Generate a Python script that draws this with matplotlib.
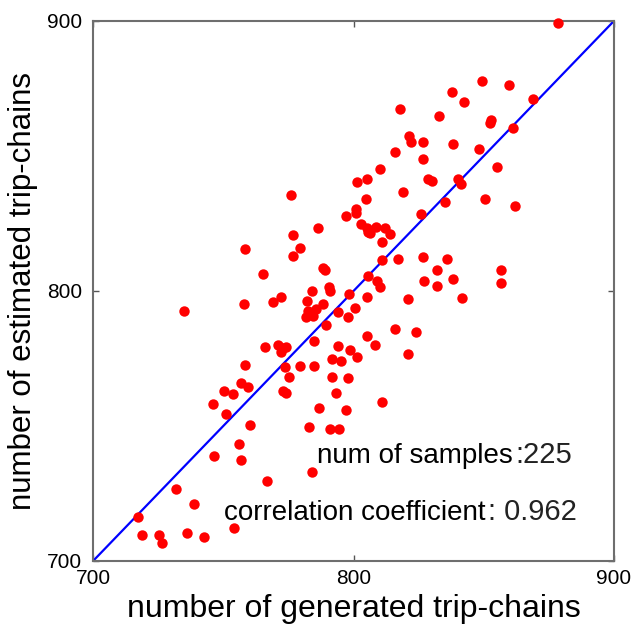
import matplotlib
matplotlib.use("Agg")
import matplotlib.pyplot as plt

plt.rcParams['font.family'] = ['Liberation Sans', 'DejaVu Sans']

# generated vs estimated trip-chain counts
generated = [
    734.9, 758.0, 769.1, 765.9, 758.2, 756.7, 759.4, 750.3, 753.9, 746.1,
    751.1, 760.3, 756.0, 746.6, 756.7, 766.7, 731.7, 738.7, 717.3, 754.0,
    718.6, 725.5, 726.6, 735.9, 742.5,
    772.3, 784.1, 790.6, 791.0, 782.2, 788.2, 783.2, 782.4, 784.3, 785.5, 781.7,
    798.2, 805.0, 800.5, 794.0, 797.9, 789.3, 784.8, 771.0, 774.2, 772.3, 772.8,
    794.1, 805.3, 808.3, 798.8, 801.3, 791.9, 795.1, 773.6, 779.4, 784.8, 775.2,
    791.9, 797.9, 772.9, 774.0, 793.4, 786.8, 797.1, 811.1, 782.9, 790.9, 794.4,
    784.0, 816.1, 824.0, 820.8, 820.8, 827.0, 832.2, 809.2, 810.1,
    818.0, 833.0, 837.7, 821.3, 821.9, 826.8, 816.1, 826.8, 810.2, 801.2, 805.0,
    828.6, 830.3, 818.9, 776.0, 804.6, 800.9, 800.9, 797.1, 825.8, 835.3, 786.4,
    776.9, 803.0, 805.0, 806.2, 808.8, 812.0, 813.9, 805.5, 811.1, 779.3, 776.9,
    817.2, 811.1, 826.8, 835.9, 788.1, 789.0, 832.1, 805.6,
    878.4, 849.2, 859.6, 842.3, 868.9, 852.8, 852.3, 861.1, 838.0, 848.0, 855.0,
    840.1, 841.2, 850.3, 862.0, 838.2, 856.6, 856.6, 841.8, 758.2, 765.1,
]
estimated = [
    792.7, 795.2, 796.0, 779.1, 772.6, 765.8, 764.4, 763.1, 762.0, 758.0,
    754.4, 750.5, 743.4, 738.9, 737.3, 729.7, 726.5, 721.0, 716.3, 712.2,
    709.5, 709.5, 706.8, 710.5, 708.8,
    797.9, 800.0, 801.4, 800.1, 796.4, 795.2, 791.8, 792.6, 790.7, 793.3, 790.4,
    798.9, 797.9, 793.6, 792.3, 790.5, 787.4, 781.5, 780.0, 779.4, 777.5, 778.9,
    779.7, 783.3, 780.0, 778.1, 775.4, 774.9, 774.1, 771.7, 772.2, 772.2, 768.0,
    768.0, 767.7, 762.9, 762.1, 762.1, 756.8, 755.8, 758.9, 749.6, 748.9, 748.9,
    732.8, 785.9, 784.7, 776.7, 796.9, 803.8, 802.0, 803.7, 801.4,
    867.3, 864.7, 873.8, 857.5, 855.3, 855.1, 851.5, 849.0, 845.1, 840.5, 841.5,
    841.5, 840.8, 836.8, 835.4, 834.1, 830.3, 829.0, 827.7, 828.5, 832.8, 823.4,
    820.7, 824.9, 823.2, 821.4, 823.8, 823.2, 821.1, 822.0, 818.3, 815.8, 813.1,
    812.0, 811.5, 812.7, 812.0, 808.4, 807.8, 807.9, 805.5,
    899.3, 877.9, 876.4, 870.1, 871.1, 863.2, 862.1, 860.3, 854.6, 852.6, 845.8,
    841.5, 839.7, 834.2, 831.5, 804.4, 807.9, 803.0, 797.3, 815.7, 806.2,
]
ticks = [700, 800, 900]
n_samples = 225
corr = 0.962

fig = plt.figure(figsize=(6.33, 6.28), dpi=100)
ax = fig.add_axes([0.147, 0.1067, 0.823, 0.86])

# identity line
ax.plot([700, 900], [700, 900], color='#0000ff', linewidth=1.6, zorder=2)
ax.plot(generated, estimated, 'o', color='#ff0000', markersize=7.5,
        markeredgewidth=0, linestyle='none', zorder=3, clip_on=False)

ax.set_xlim(700, 900)
ax.set_ylim(700, 900)
ax.set_xticks(ticks)
ax.set_yticks(ticks)
ax.tick_params(direction='in', top=True, right=True, length=4, width=1,
               color='#555555', labelsize=15)
ax.tick_params(axis='x', pad=6)
ax.tick_params(axis='y', pad=8)
for s in ax.spines.values():
    s.set_color('#6e6e6e')
    s.set_linewidth(1.5)

ax.set_xlabel('number of generated trip-chains', fontsize=23, labelpad=4)
ax.set_ylabel('number of estimated trip-chains', fontsize=22.5, labelpad=6)

ax.text(786, 736.3, 'num of samples', fontsize=20, va='baseline', zorder=4)
ax.text(862.3, 736.3, ':%d' % n_samples, fontsize=21, va='baseline',
        color='#222222', zorder=4)
ax.text(750.2, 715.2, 'correlation coefficient', fontsize=20, va='baseline', zorder=4)
ax.text(851.6, 715.2, ': %.3f' % corr, fontsize=21, va='baseline',
        color='#222222', zorder=4)

fig.savefig('out.png', dpi=100)
